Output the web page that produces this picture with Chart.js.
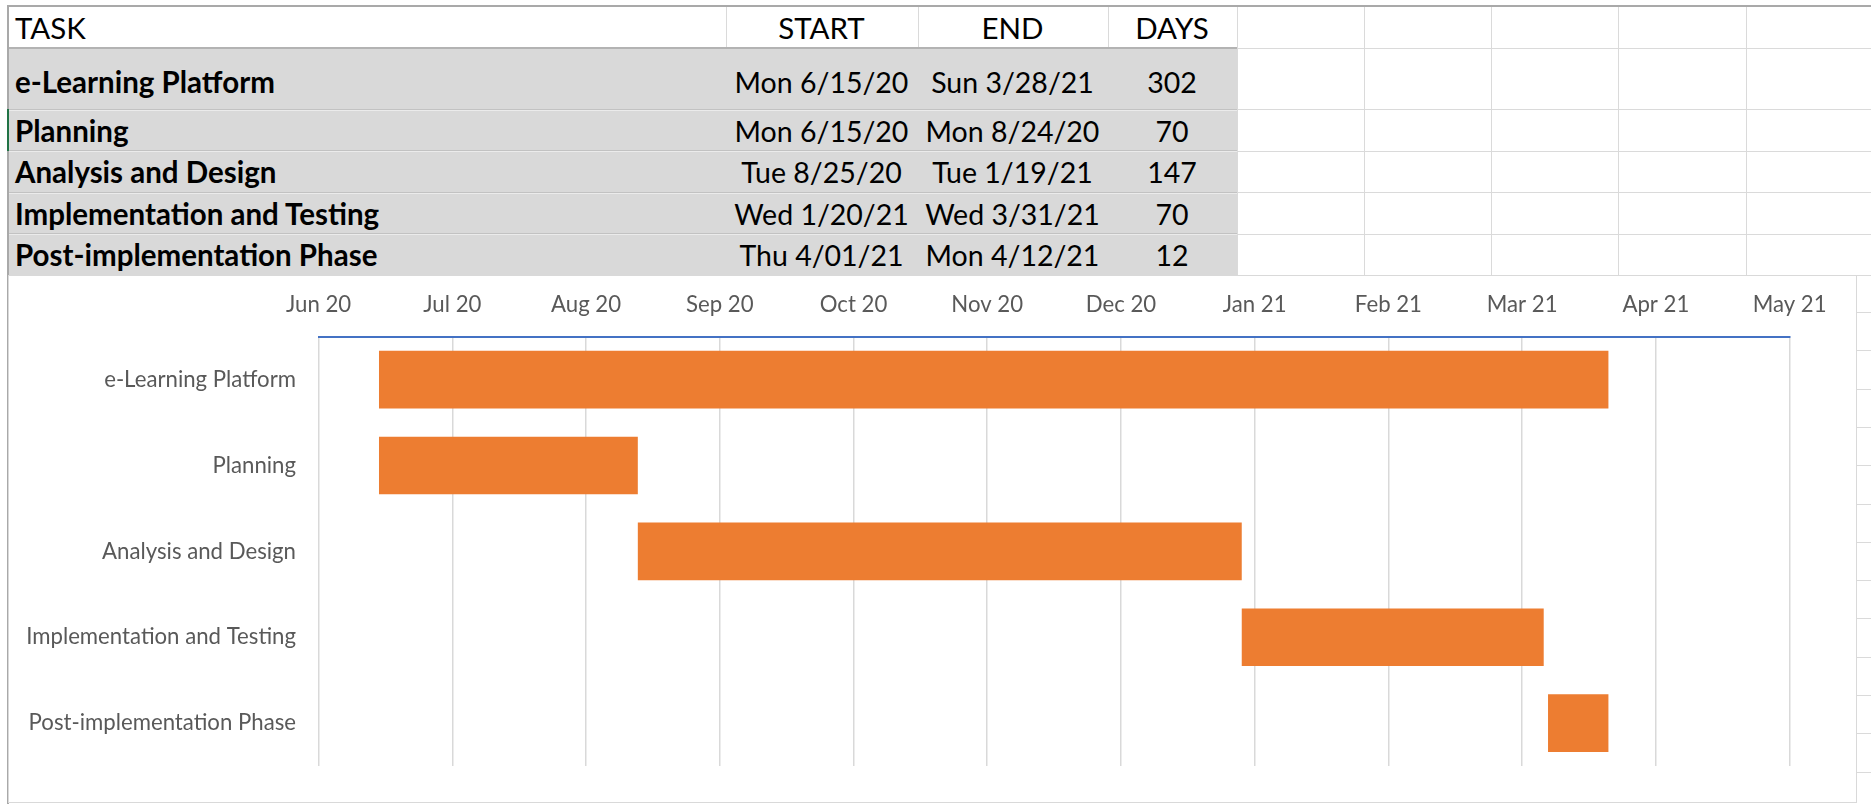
<!DOCTYPE html>
<html>
<head>
<meta charset="utf-8">
<title>e-Learning Platform – project schedule</title>
<script src="https://cdn.jsdelivr.net/npm/chart.js@4.4.1/dist/chart.umd.min.js"></script>
<style>
  html, body { margin: 0; padding: 0; background: #fff; width: 1871px; height: 804px; overflow: hidden; }
  body { font-family: Lato, "Open Sans", sans-serif; position: relative; }
  .ln { position: absolute; }
  .txt { position: absolute; white-space: nowrap; color: #000; line-height: 36px; height: 36px; }
  #chartBox { position: absolute; left: 8px; top: 275px; width: 1849px; height: 528px; box-sizing: border-box;
              border: 1px solid #d9d9d9; background: #fff; }
  #chartInner { position: relative; width: 100%; height: 100%; }
</style>
</head>
<body>
<div id="sheet"></div>
<div id="chartBox"><div id="chartInner"><canvas id="gantt"></canvas></div></div>
<script>
// ---- Task table ----
const headers = ['TASK', 'START', 'END', 'DAYS'];
const taskNames = ['e-Learning Platform', 'Planning', 'Analysis and Design', 'Implementation and Testing', 'Post-implementation Phase'];
const startLabels = ['Mon 6/15/20', 'Mon 6/15/20', 'Tue 8/25/20', 'Wed 1/20/21', 'Thu 4/01/21'];
const endLabels = ['Sun 3/28/21', 'Mon 8/24/20', 'Tue 1/19/21', 'Wed 3/31/21', 'Mon 4/12/21'];
const dayCounts = [302, 70, 147, 70, 12];

// ---- Gantt bars: first and last day on the timeline ----
const barStarts = ['2020-06-15', '2020-06-15', '2020-08-14', '2021-01-01', '2021-03-13'];
const barEnds   = ['2021-03-27', '2020-08-14', '2021-01-01', '2021-03-12', '2021-03-27'];

// ---- Timeline axis ----
const axisOrigin = '2020-06-01';
const axisStepDays = 31;
const tickLabels = ['Jun 20', 'Jul 20', 'Aug 20', 'Sep 20', 'Oct 20', 'Nov 20', 'Dec 20', 'Jan 21', 'Feb 21', 'Mar 21', 'Apr 21', 'May 21'];

// ---------------- worksheet grid + table ----------------
const sheet = document.getElementById('sheet');
function line(x, y, w, h, color) {
  const d = document.createElement('div');
  d.className = 'ln';
  d.style.cssText = `left:${x}px;top:${y}px;width:${w}px;height:${h}px;background:${color};`;
  sheet.appendChild(d);
}
function text(str, x, cy, opts) {
  const d = document.createElement('div');
  d.className = 'txt';
  d.textContent = str;
  d.style.top = (cy - 18) + 'px';
  d.style.fontSize = opts.size + 'px';
  d.style.fontWeight = opts.bold ? '700' : '400';
  if (opts.center) {
    d.style.left = (x - 200) + 'px';
    d.style.width = '400px';
    d.style.textAlign = 'center';
  } else {
    d.style.left = x + 'px';
  }
  sheet.appendChild(d);
}

const tableLeft = 9, tableRight = 1237;
const rowEdges = [48, 109, 150.5, 192, 233.5, 275];        // horizontal cell borders
const colCenters = [null, 821.5, 1012.5, 1172];             // START, END, DAYS centres
const headerCols = [725.5, 917.5, 1107.5];                   // header separators
const extraCols = [1237, 1364, 1491, 1618, 1745.5];          // empty worksheet columns

// grey body of the table
line(tableLeft, 48, tableRight - tableLeft, 227, '#d9d9d9');
// empty-cell gridlines
for (const x of headerCols) line(x, 6, 1, 42, '#dadada');
for (const x of extraCols) line(x, 6, 1, 269, '#dadada');
for (const y of rowEdges) line(tableRight, y, 1871 - tableRight, 1, '#dadada');
// table row borders
line(tableLeft, 46.5, tableRight - tableLeft, 2.5, '#b3b3b3');
for (const y of rowEdges.slice(1, 5)) {
  line(tableLeft, y - 0.5, tableRight - tableLeft, 1, '#c2c2c2');
  line(tableLeft, y + 0.5, tableRight - tableLeft, 1, '#ebebeb');
}
// worksheet frame
line(7, 5, 1864, 2, '#a9a9a9');
line(7, 5, 2, 799, '#a9a9a9');
line(7, 109, 2, 42, '#217346');
// cells to the right of the chart
for (let y = 312; y < 804; y += 38.3) line(1857, Math.round(y), 14, 1, '#dadada');

// header texts
text(headers[0], 15, 28, { size: 29.5 });
for (let c = 1; c < 4; c++) text(headers[c], colCenters[c], 28, { size: 29.5, center: true });
// body texts
const rowTextY = [81.5, 130.5, 172, 213.5, 255];
taskNames.forEach((name, i) => {
  const cy = rowTextY[i];
  text(name, 15, cy, { size: 29.5, bold: true });
  text(startLabels[i], colCenters[1], cy, { size: 28.5, center: true });
  text(endLabels[i], colCenters[2], cy, { size: 28.5, center: true });
  text(String(dayCounts[i]), colCenters[3], cy, { size: 28.5, center: true });
});

// ---------------- Gantt chart ----------------
const dayOf = d => (Date.parse(d + 'T00:00:00Z') - Date.parse(axisOrigin + 'T00:00:00Z')) / 86400000;
const spans = barStarts.map((s, i) => [dayOf(s), dayOf(barEnds[i])]);
const labelFont = { family: 'Lato', size: 22.2 };

function draw() {
  new Chart(document.getElementById('gantt'), {
    type: 'bar',
    data: {
      labels: taskNames,
      datasets: [{
        data: spans,
        backgroundColor: '#ED7D31',
        borderWidth: 0,
        borderSkipped: false,
        barPercentage: 0.67,
        categoryPercentage: 1
      }]
    },
    options: {
      indexAxis: 'y',
      responsive: true,
      maintainAspectRatio: false,
      animation: false,
      layout: { padding: { left: 0, top: 0, right: 66.4, bottom: 28.7 } },
      plugins: { legend: { display: false }, tooltip: { enabled: false } },
      scales: {
        x: {
          type: 'linear',
          position: 'top',
          min: 0,
          max: axisStepDays * (tickLabels.length - 1),
          ticks: {
            stepSize: axisStepDays,
            autoSkip: false,
            maxRotation: 0,
            color: '#595959',
            font: labelFont,
            padding: 18.5,
            callback: v => tickLabels[Math.round(v / axisStepDays)]
          },
          grid: { color: '#d9d9d9', lineWidth: 1.5, drawTicks: false },
          border: { display: true, color: '#4472C4', width: 2 },
          afterFit: s => { s.height = 60.7; }
        },
        y: {
          ticks: { color: '#595959', font: labelFont, padding: 22.6 },
          grid: { display: false, drawTicks: false },
          border: { display: false },
          afterFit: s => { s.width = 309.6; }
        }
      }
    }
  });
}

if (document.fonts && document.fonts.load) {
  Promise.all([document.fonts.load('22px Lato'), document.fonts.load('bold 29px Lato')]).then(draw, draw);
} else {
  draw();
}
</script>
</body>
</html>
